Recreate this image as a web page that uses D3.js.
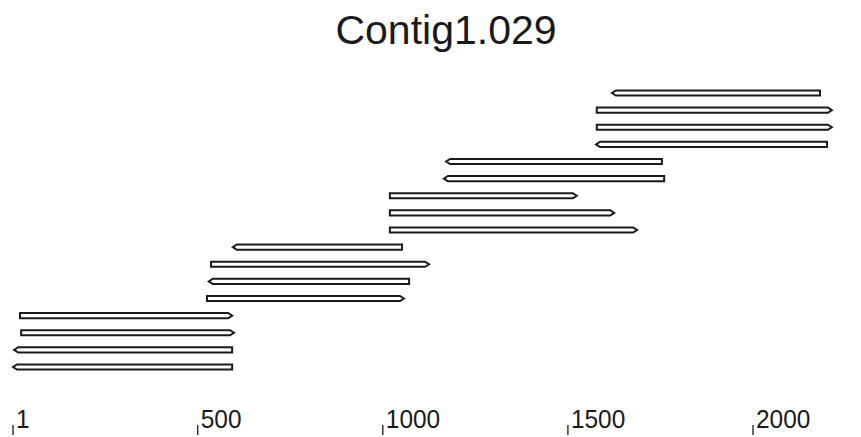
<!DOCTYPE html>
<html>
<head>
<meta charset="utf-8">
<script src="https://cdn.jsdelivr.net/npm/d3@7"></script>
<style>
  body { margin: 0; background: #fff; }
  text { font-family: "Liberation Sans", Arial, sans-serif; fill: #1a1a1a; }
</style>
</head>
<body>
<svg width="861" height="437"></svg>
<script>
// reads, top row first
let readStart = [1619, 1578, 1578, 1576, 1171, 1165, 1019, 1019, 1019, 595, 536, 530, 525, 20, 23, 4, 1];
let readEnd   = [2181, 2213, 2213, 2200, 1754, 1760, 1524, 1625, 1687, 1052, 1125, 1071, 1057, 593, 598, 593, 593];
let readDir   = ["L", "R", "R", "L", "L", "L", "R", "R", "R", "L", "R", "L", "R", "R", "R", "L", "L"];
let tickValues = [1, 500, 1000, 1500, 2000];
let title = "Contig1.029";

let svg = d3.select("svg");

let x = d3.scaleLinear().domain([1, 2000]).range([13, 753]);
let y = d3.scalePoint().domain(d3.range(readStart.length)).range([93, 367]);

svg.append("text")
    .attr("x", 446)
    .attr("y", 44)
    .attr("text-anchor", "middle")
    .style("font-size", "41px")
    .text(title);

//--------------------------------------
function arrowPath(i) {
  let x0 = x(readStart[i]), x1 = x(readEnd[i]), yc = y(i);
  let h = 2.6, head = 4;
  if (readDir[i] == "R") {
    return "M" + x0 + "," + (yc - h) + "L" + (x1 - head) + "," + (yc - h) + "L" + x1 + "," + yc +
           "L" + (x1 - head) + "," + (yc + h) + "L" + x0 + "," + (yc + h) + "Z";
  } else {
    return "M" + x1 + "," + (yc - h) + "L" + (x0 + head) + "," + (yc - h) + "L" + x0 + "," + yc +
           "L" + (x0 + head) + "," + (yc + h) + "L" + x1 + "," + (yc + h) + "Z";
  }
}

svg.append("g")
    .attr("class", "reads")
  .selectAll("path")
  .data(d3.range(readStart.length))
  .enter().append("path")
    .attr("d", arrowPath)
    .attr("fill", "#fff")
    .attr("stroke", "#1a1a1a")
    .attr("stroke-width", 2)
    .attr("stroke-linejoin", "miter");

// axis: little ticks with the label just right of them
let axis = svg.append("g").attr("class", "axis");
axis.selectAll("line")
  .data(tickValues)
  .enter().append("line")
    .attr("x1", function(d) { return x(d); })
    .attr("x2", function(d) { return x(d); })
    .attr("y1", 425)
    .attr("y2", 435)
    .attr("stroke", "#1a1a1a")
    .attr("stroke-width", 1.3);

axis.selectAll("text")
  .data(tickValues)
  .enter().append("text")
    .attr("x", function(d) { return x(d) + 3; })
    .attr("y", 428)
    .style("font-size", "25px")
    .attr("textLength", function(d) { return String(d).length * 13.6; })
    .attr("lengthAdjust", "spacingAndGlyphs")
    .text(function(d) { return d; });
</script>
</body>
</html>
